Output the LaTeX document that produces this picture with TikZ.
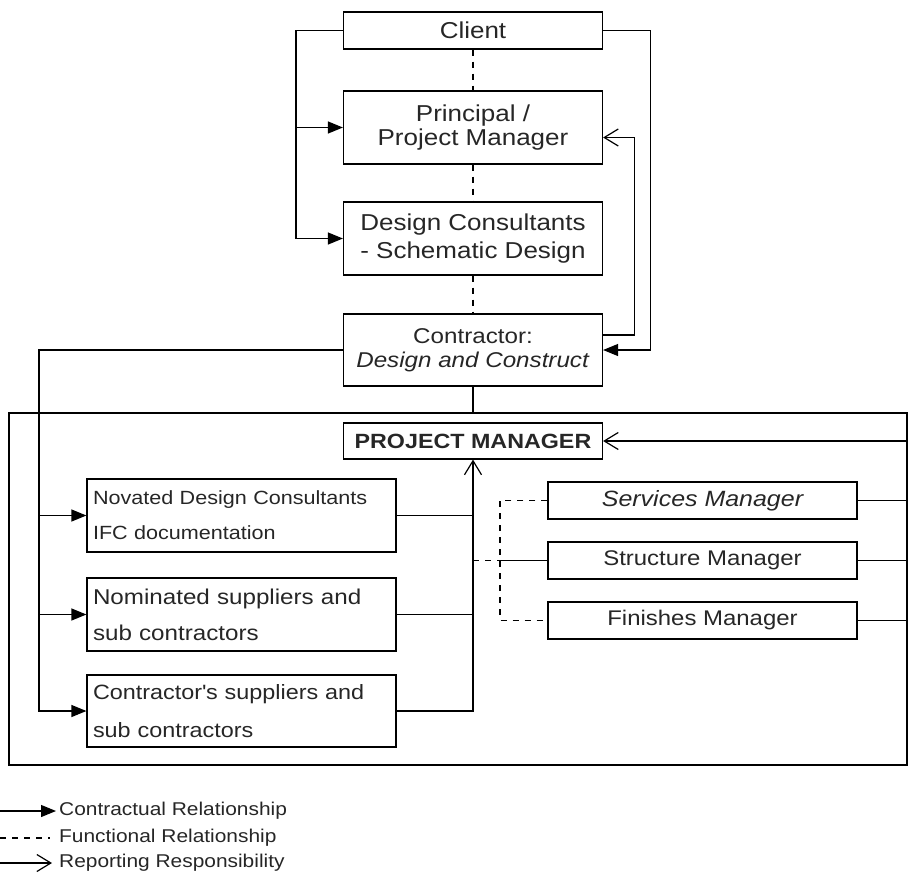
\documentclass[tikz,border=0pt]{standalone}
\usepackage{fontspec}
\setmainfont{Liberation Sans}[FakeStretch=1.13]
\usetikzlibrary{arrows.meta}
\tikzset{
  box/.style={draw, line width=1.2pt, minimum width=259pt, inner sep=0pt, align=center, text=black!85},
  subbox/.style={box, minimum width=309pt, text width=297pt, inner xsep=6pt, align=left},
  link/.style={line width=1.2pt},
  contract/.style={link, -{Triangle[length=15pt,width=12pt]}},
  func/.style={link, dash pattern=on 6pt off 6pt},
  report/.style={link, -{Straight Barb[length=14pt,width=17pt,line width=1.2pt]}},
}

\begin{document}
\begin{tikzpicture}[x=1pt,y=-1pt]
  \useasboundingbox (0,0) rectangle (921,884);
  % upper chain
  \node[box, minimum height=37pt, font=\fontsize{23}{24}\selectfont] (client) at (473,30.5) {Client};
  \node[box, minimum height=73pt, font=\fontsize{23}{24}\selectfont] (principal) at (473,127.5) {Principal /\\Project Manager};
  \node[box, minimum height=73pt, font=\fontsize{23}{28}\selectfont] (design) at (473,238.5) {Design Consultants\\- Schematic Design};
  \node[box, minimum height=72pt, font=\fontsize{21.4}{24}\selectfont] (contractor) at (473,350) {Contractor:\\\textit{Design and Construct}};

  % contractor's team
  \node[draw, line width=1.2pt, minimum width=898pt, minimum height=352pt, inner sep=0pt] (frame) at (458,589) {};
  \node[box, minimum height=36pt, font=\bfseries\fontsize{20.6}{22}\selectfont] (pm) at (473,441) {PROJECT MANAGER};
  \node[subbox, minimum height=73pt, font=\fontsize{19.1}{35}\selectfont] (novated) at (241.5,515.5) {Novated Design Consultants\\IFC documentation};
  \node[subbox, minimum height=73pt, font=\fontsize{21.4}{36}\selectfont] (nominated) at (241.5,614.5) {Nominated suppliers and\\sub contractors};
  \node[subbox, minimum height=72pt, font=\fontsize{20.7}{38}\selectfont] (ownsub) at (241.5,711) {Contractor\textquotesingle s suppliers and\\sub contractors};
  \node[box, minimum width=309pt, minimum height=37pt, font=\itshape\fontsize{22.1}{24}\selectfont] (services) at (702.5,500.5) {Services Manager};
  \node[box, minimum width=309pt, minimum height=37pt, font=\fontsize{21.2}{24}\selectfont] (structure) at (702.5,560.5) {Structure Manager};
  \node[box, minimum width=309pt, minimum height=37pt, font=\fontsize{21.2}{24}\selectfont] (finishes) at (702.5,620.5) {Finishes Manager};

  % top relationships
  \draw[func] (client) -- (principal);
  \draw[func] (principal) -- (design);
  \draw[func] (design) -- (contractor);
  \draw[contract] (client.west) -- ++(-47,0) |- (principal.west);
  \draw[contract] (client.west) -- ++(-47,0) |- (design.west);
  \draw[contract] (client.east) -- ++(47,0) |- (contractor.east);
  \draw[report] ([yshift=15pt]contractor.east) -- ++(31,0) |- ([yshift=-10pt]principal.east);
  \draw[link] (contractor) -- (contractor.south |- frame.north);

  % inside the contractor's team
  \draw[contract] (contractor.west) -- ++(-304,0) |- (novated.west);
  \draw[contract] (contractor.west) -- ++(-304,0) |- (nominated.west);
  \draw[contract] (contractor.west) -- ++(-304,0) |- (ownsub.west);
  \draw[link] (novated.east) -- (novated.east -| pm.south);
  \draw[link] (nominated.east) -- (nominated.east -| pm.south);
  \draw[report] (ownsub.east) -| (pm.south);
  \coordinate (fbus) at (500,560.5);
  \draw[func] (structure.west -| pm.south) -- (fbus);
  \draw[link] (fbus) -- (structure.west);
  \draw[func] (services.west) -- (services.west -| fbus) -- (finishes.west -| fbus) -- (finishes.west);
  \draw[link] (services.east) -- (services.east -| frame.east);
  \draw[link] (structure.east) -- (structure.east -| frame.east);
  \draw[report] (finishes.east) -| (frame.east |- pm.east) -- (pm.east);

  % legend
  \node[anchor=west, inner sep=3pt, text=black!85, font=\fontsize{18.5}{20}\selectfont] (keycon) at (56,811) {Contractual Relationship};
  \node[anchor=west, inner sep=3pt, text=black!85, font=\fontsize{18.5}{20}\selectfont] (keyfun) at (56,838) {Functional Relationship};
  \node[anchor=west, inner sep=3pt, text=black!85, font=\fontsize{18.5}{20}\selectfont] (keyrep) at (56,863) {Reporting Responsibility};
  \draw[contract] ([xshift=-56pt]keycon.west) -- (keycon.west);
  \draw[func] ([xshift=-56pt]keyfun.west) -- ([xshift=-6pt]keyfun.west);
  \draw[report] ([xshift=-56pt]keyrep.west) -- ([xshift=-4pt]keyrep.west);
\end{tikzpicture}
\end{document}
